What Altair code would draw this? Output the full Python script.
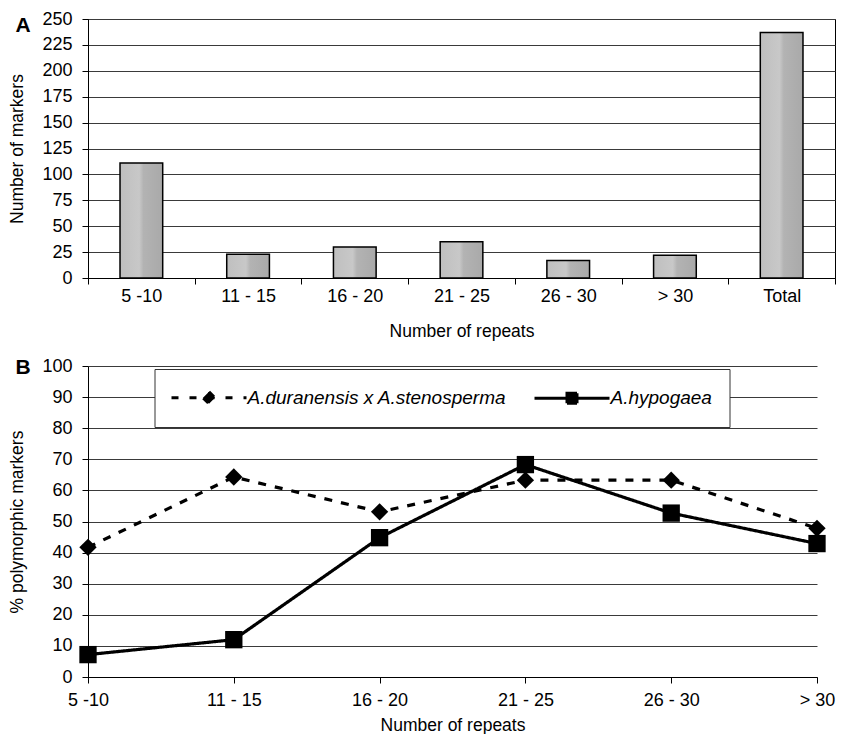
import altair as alt
import pandas as pd

# ---------------- data ----------------
categories_a = ["5 -10", "11 - 15", "16 - 20", "21 - 25", "26 - 30", "> 30", "Total"]
marker_counts = [111, 23, 30, 35, 17, 22, 237]

categories_b = ["5 -10", "11 - 15", "16 - 20", "21 - 25", "26 - 30", "> 30"]
series_names = ["A.duranensis x A.stenosperma", "A.hypogaea"]
pct_duranensis = [41.7, 64.3, 53.1, 63.3, 63.3, 47.8]
pct_hypogaea = [7.2, 12.0, 44.8, 68.3, 52.7, 42.9]

y_ticks_a = [0, 25, 50, 75, 100, 125, 150, 175, 200, 225, 250]
y_ticks_b = [0, 10, 20, 30, 40, 50, 60, 70, 80, 90, 100]

FONT = "Liberation Sans"
LFS = 18
TFS = 17.5
GRID = "#3a3a3a"

df_a = pd.DataFrame({"repeats": categories_a, "markers": marker_counts})
df_b = pd.DataFrame({
    "repeats": categories_b * 2,
    "series": [series_names[0]] * len(categories_b) + [series_names[1]] * len(categories_b),
    "pct": pct_duranensis + pct_hypogaea,
})
df_label_a = pd.DataFrame({"label": ["A"]})
df_label_b = pd.DataFrame({"label": ["B"]})

bar_fill = alt.Gradient(
    gradient="linear", x1=0, y1=0, x2=1, y2=0,
    stops=[
        alt.GradientStop(color="#bfbfbf", offset=0),
        alt.GradientStop(color="#c8c8c8", offset=0.45),
        alt.GradientStop(color="#b3b3b3", offset=0.55),
        alt.GradientStop(color="#a9a9a9", offset=1),
    ],
)

axis_common = dict(
    labelFont=FONT, labelFontSize=LFS, labelColor="black",
    titleFont=FONT, titleFontSize=TFS, titleFontWeight="normal", titleColor="black",
    domainColor="black", domainWidth=1, tickColor="black", tickWidth=1, tickSize=6,
)

# ---------------- panel A ----------------
bars = alt.Chart(df_a).mark_bar(
    width=alt.RelativeBandSize(0.4), fill=bar_fill, stroke="black", strokeWidth=1.5
).encode(
    x=alt.X("repeats:N", sort=categories_a,
            scale=alt.Scale(paddingInner=0, paddingOuter=0),
            axis=alt.Axis(title="Number of repeats", labelAngle=0, tickBand="extent",
                          grid=False, labelPadding=3, titlePadding=17, **axis_common)),
    y=alt.Y("markers:Q", scale=alt.Scale(domain=[0, 250], nice=False),
            axis=alt.Axis(title="Number of markers", values=y_ticks_a, grid=True,
                          gridColor=GRID, gridWidth=1, labelPadding=10, titlePadding=15,
                          **axis_common)),
)

label_a = alt.Chart(df_label_a).mark_text(
    font=FONT, fontSize=21, fontWeight="bold", align="center", baseline="middle", color="black"
).encode(text="label:N", x=alt.value(-65), y=alt.value(7))

panel_a = alt.layer(bars, label_a).properties(width=747, height=259)

# ---------------- panel B ----------------
xb = alt.X("repeats:N", sort=categories_b, scale=alt.Scale(type="point", padding=0),
           axis=alt.Axis(title="Number of repeats", labelAngle=0, grid=False,
                         labelPadding=8, titlePadding=7, **axis_common))
yb = alt.Y("pct:Q", scale=alt.Scale(domain=[0, 100], nice=False),
           axis=alt.Axis(title="% polymorphic markers", values=y_ticks_b, grid=True,
                         gridColor=GRID, gridWidth=1, labelPadding=10, titlePadding=15,
                         **axis_common))

lines = alt.Chart(df_b).mark_line(color="black", strokeWidth=3.2).encode(
    x=xb, y=yb, detail="series:N",
    strokeDash=alt.StrokeDash("series:N", scale=alt.Scale(domain=series_names, range=[[8, 9], [1, 0]]),
                              legend=None),
)

points = alt.Chart(df_b).mark_point(filled=True, color="black", opacity=1).encode(
    x=xb, y=yb,
    shape=alt.Shape("series:N", scale=alt.Scale(domain=series_names, range=["diamond", "square"]),
                    legend=None),
    size=alt.Size("series:N", scale=alt.Scale(domain=series_names, range=[300, 300]), legend=None),
)

legend_paths = [
    "M-3.75,0H3.75M0,-0.6L0.6,0L0,0.6L-0.6,0Z",
    "M-3.75,0H3.75M-0.5,-0.5H0.5V0.5H-0.5Z",
]
legend_def = dict(
    title=None, orient="none", legendX=66.5, legendY=3, direction="horizontal",
    fillColor="white", strokeColor="#333333", padding=17,
    symbolSize=400, symbolStrokeWidth=3, symbolOpacity=1,
    symbolOffset=26, labelOffset=27,
    labelFont=FONT, labelFontSize=19, labelFontStyle="italic", labelColor="black",
    labelLimit=600, columnPadding=22,
)

legend_layer = alt.Chart(df_b).transform_filter("false").mark_point(
    filled=False, fill="black", stroke="black", strokeWidth=3, opacity=1
).encode(
    x=xb, y=yb,
    shape=alt.Shape("series:N", scale=alt.Scale(domain=series_names, range=legend_paths),
                    legend=alt.Legend(**legend_def)),
    strokeDash=alt.StrokeDash("series:N", scale=alt.Scale(domain=series_names, range=[[7, 11], [1, 0]]),
                              legend=alt.Legend(**legend_def)),
)

label_b = alt.Chart(df_label_b).mark_text(
    font=FONT, fontSize=21, fontWeight="bold", align="center", baseline="middle", color="black"
).encode(text="label:N", x=alt.value(-65), y=alt.value(2))

panel_b = alt.layer(lines, points, legend_layer, label_b).resolve_scale(
    shape="independent", strokeDash="independent", size="independent"
).properties(width=729, height=311, view=alt.ViewBackground(strokeOpacity=0))

chart = alt.vconcat(panel_a, panel_b, spacing=17).properties(
    padding={"left": 0, "top": 1, "right": 0, "bottom": 0}
).configure_view(stroke="black", strokeWidth=1)

chart.save("out.html", embed_options={"renderer": "svg", "actions": False})
